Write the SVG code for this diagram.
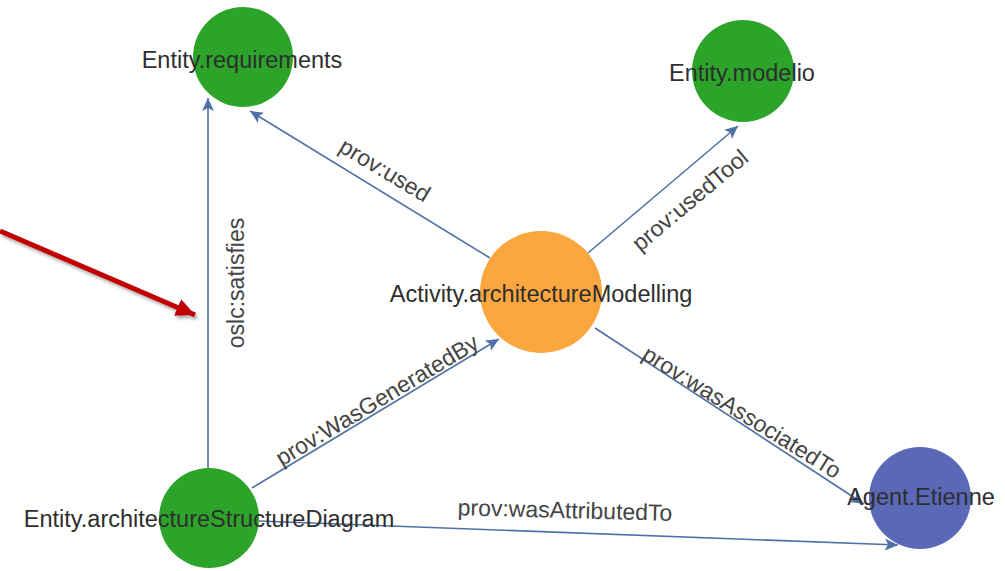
<svg xmlns="http://www.w3.org/2000/svg" width="1005" height="571" viewBox="0 0 1005 571">
<style>
.edge{fill:none;stroke:#4f72a6;stroke-width:1.6;marker-end:url(#arr)}
.elabel{font-family:"Liberation Sans",Arial,sans-serif;font-size:23px;fill:#444;text-anchor:middle}
.nlabel{font-family:"Liberation Sans",Arial,sans-serif;font-size:23.5px;fill:#2e2e2e;text-anchor:middle}
.green{fill:#2ca42a}
.orange{fill:#fca640}
.blue{fill:#5a68b8}
</style>
<defs>
<marker id="arr" markerUnits="userSpaceOnUse" markerWidth="14" markerHeight="12" viewBox="0 0 14 12" refX="13" refY="6" orient="auto">
<path d="M0,0 L13,6 L0,12 L3,6 Z" fill="#4f72a6"/>
</marker>
<marker id="redarr" markerUnits="userSpaceOnUse" markerWidth="20" markerHeight="18" viewBox="0 0 20 18" refX="19" refY="9" orient="auto">
<path d="M0,0 L19,9 L0,18 Z" fill="#c00000"/>
</marker>
<filter id="sh" x="-10%" y="-20%" width="130%" height="160%">
<feDropShadow dx="2" dy="3" stdDeviation="1.5" flood-color="#000" flood-opacity="0.3"/>
</filter>
</defs>
<rect width="1005" height="571" fill="#ffffff"/>
<g id="connectors">
<line class="edge" x1="208" y1="468" x2="208" y2="98"/>
<line class="edge" x1="490" y1="258" x2="250" y2="111"/>
<line class="edge" x1="588" y1="253" x2="738" y2="126"/>
<line class="edge" x1="252" y1="488" x2="499" y2="339"/>
<line class="edge" x1="595" y1="328" x2="864" y2="504"/>
<line class="edge" x1="259" y1="521" x2="898" y2="545"/>
<text class="elabel" transform="translate(236,283) rotate(-90)" y="8">oslc:satisfies</text>
<text class="elabel" transform="translate(385,170) rotate(31)" y="8">prov:used</text>
<text class="elabel" transform="translate(690,200) rotate(-40)" y="8">prov:usedTool</text>
<text class="elabel" transform="translate(377,400) rotate(-31)" y="8">prov:WasGeneratedBy</text>
<text class="elabel" transform="translate(742,412) rotate(32)" y="8">prov:wasAssociatedTo</text>
<text class="elabel" transform="translate(565,510) rotate(1.5)" y="8">prov:wasAttributedTo</text>
</g>
<g id="red-arrow" filter="url(#sh)">
<line x1="0" y1="231" x2="195" y2="315" stroke="#c00000" stroke-width="5" marker-end="url(#redarr)"/>
</g>
<g id="node-requirements">
<circle class="green" cx="243" cy="57" r="50"/>
<text class="nlabel" x="242" y="68">Entity.requirements</text>
</g>
<g id="node-modelio">
<circle class="green" cx="743" cy="71" r="51"/>
<text class="nlabel" x="742" y="81">Entity.modelio</text>
</g>
<g id="node-activity">
<circle class="orange" cx="541" cy="292" r="61"/>
<text class="nlabel" x="541" y="302">Activity.architectureModelling</text>
</g>
<g id="node-diagram">
<circle class="green" cx="209" cy="518" r="50"/>
<text class="nlabel" x="209" y="527">Entity.architectureStructureDiagram</text>
</g>
<g id="node-agent">
<circle class="blue" cx="920" cy="498" r="51"/>
<text class="nlabel" x="921" y="505">Agent.Etienne</text>
</g>
</svg>
